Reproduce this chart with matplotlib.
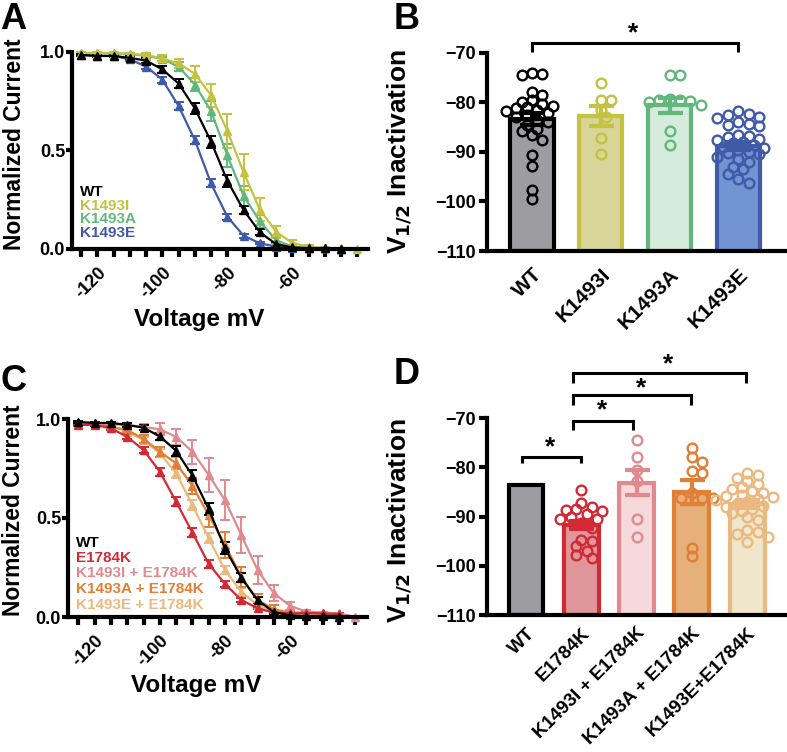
import numpy as np
import matplotlib
matplotlib.use('Agg')
import matplotlib.pyplot as plt

plt.rcParams['font.family'] = ['Liberation Sans', 'DejaVu Sans']
plt.rcParams['font.weight'] = 'bold'

# ---------------- data ----------------
volts = [-125, -120, -115, -110, -105, -100, -95, -90, -85, -80, -75, -70,
         -65, -60, -55, -50, -45, -40]
volt_ticks = [-125, -120, -115, -110, -105, -100, -95, -90, -85, -80, -75, -70,
              -65, -60, -55, -50, -45, -40]

# panel A / C steady-state inactivation curves (mean, SEM)
wt_i = [0.985, 0.98, 0.98, 0.97, 0.956, 0.912, 0.84, 0.714, 0.545, 0.347, 0.198, 0.085, 0.025, 0.008, 0.004, 0.003, 0.002]
wt_e = [0.005, 0.005, 0.005, 0.008, 0.012, 0.018, 0.025, 0.028, 0.03, 0.03, 0.022, 0.015, 0.008, 0.004, 0.002, 0.002, 0.002]
k1493i_i = [0.995, 0.995, 0.995, 0.99, 0.985, 0.968, 0.942, 0.89, 0.78, 0.60, 0.39, 0.20, 0.088, 0.03, 0.012, 0.005, 0.003, 0.0]
k1493i_e = [0.003, 0.003, 0.003, 0.005, 0.008, 0.015, 0.025, 0.04, 0.06, 0.085, 0.09, 0.06, 0.03, 0.015, 0.006, 0.003, 0.002, 0.0]
k1493a_i = [0.995, 0.995, 0.993, 0.99, 0.98, 0.965, 0.925, 0.835, 0.70, 0.475, 0.27, 0.14, 0.045, 0.012, 0.005, 0.003, 0.002]
k1493a_e = [0.003, 0.003, 0.004, 0.005, 0.008, 0.012, 0.022, 0.035, 0.05, 0.06, 0.05, 0.035, 0.015, 0.006, 0.003, 0.002, 0.002]
k1493e_i = [0.985, 0.98, 0.98, 0.963, 0.926, 0.86, 0.726, 0.553, 0.333, 0.164, 0.068, 0.029, 0.012, 0.006, 0.004, 0.003, 0.002]
k1493e_e = [0.004, 0.004, 0.005, 0.008, 0.01, 0.015, 0.02, 0.022, 0.02, 0.015, 0.01, 0.006, 0.004, 0.003, 0.002, 0.002, 0.002]

e1784k_i = [0.97, 0.97, 0.953, 0.91, 0.843, 0.734, 0.582, 0.426, 0.268, 0.167, 0.086, 0.044, 0.022, 0.018, 0.02, 0.018, 0.015]
e1784k_e = [0.005, 0.005, 0.008, 0.012, 0.015, 0.02, 0.022, 0.022, 0.02, 0.015, 0.01, 0.006, 0.004, 0.003, 0.003, 0.003, 0.003]
ki_ek_i = [0.978, 0.978, 0.975, 0.97, 0.96, 0.948, 0.91, 0.835, 0.717, 0.59, 0.414, 0.237, 0.12, 0.056, 0.027, 0.022, 0.018, 0.0]
ki_ek_e = [0.005, 0.005, 0.006, 0.008, 0.015, 0.03, 0.04, 0.06, 0.085, 0.1, 0.09, 0.07, 0.04, 0.02, 0.008, 0.005, 0.004, 0.0]
ka_ek_i = [0.975, 0.975, 0.96, 0.944, 0.90, 0.835, 0.776, 0.662, 0.515, 0.364, 0.204, 0.086, 0.039, 0.022, 0.022, 0.018, 0.015]
ka_ek_e = [0.005, 0.005, 0.008, 0.012, 0.02, 0.025, 0.03, 0.04, 0.06, 0.065, 0.05, 0.03, 0.02, 0.01, 0.005, 0.004, 0.004]
ke_ek_i = [0.978, 0.978, 0.965, 0.936, 0.894, 0.826, 0.726, 0.566, 0.397, 0.237, 0.128, 0.06, 0.027, 0.018, 0.015, 0.012, 0.01]
ke_ek_e = [0.004, 0.004, 0.006, 0.01, 0.015, 0.02, 0.022, 0.025, 0.025, 0.022, 0.018, 0.012, 0.008, 0.005, 0.004, 0.003, 0.003]

# panel B: V1/2 per cell
b_groups = ['WT', 'K1493I', 'K1493A', 'K1493E']
b_means = [-83.4, -82.7, -80.6, -88.8]
b_sems = [1.2, 2.0, 1.6, 0.8]
wt_pts = [-74.0, -74.2, -74.5, -77.8, -78.4, -79.5, -79.8, -80.3, -80.8, -81.0, -81.2, -81.5, -81.8, -82.2,
          -82.6, -83.0, -83.5, -84.0, -84.5, -85.3, -85.8, -86.6, -87.5, -90.6, -92.9, -97.7, -99.5]
k1493i_pts = [-76.0, -79.5, -79.5, -81.5, -83.0, -87.2, -90.5]
k1493a_pts = [-74.5, -74.5, -79.5, -79.5, -79.3, -80.0, -80.5, -79.6, -85.8, -88.5]
k1493e_pts = [-81.8, -82.3, -82.6, -83.0, -83.2, -84.0, -84.3, -84.6, -84.8, -86.5, -86.8, -87.0, -87.3, -87.6,
              -88.0, -88.2, -88.5, -89.0, -89.2, -89.5, -90.0, -90.2, -90.5, -91.0, -91.5, -92.0, -93.0, -93.5,
              -94.5, -95.5, -96.3]

# panel D
d_groups = ['WT', 'E1784K', 'K1493I + E1784K', 'K1493A + E1784K', 'K1493E+E1784K']
d_means = [-83.6, -91.8, -83.1, -85.0, -87.4]
d_sems = [None, 0.8, 2.6, 2.4, 0.8]
e1784k_pts = [-84.6, -87.3, -88.0, -88.5, -88.6, -88.9, -89.5, -90.0, -90.6, -90.6, -91.3, -92.3, -94.7,
              -95.0, -96.0, -97.0, -97.9, -98.4]
ki_ek_pts = [-74.5, -77.9, -80.5, -82.8, -90.5, -94.1]
ka_ek_pts = [-76.1, -77.9, -78.9, -80.8, -81.2, -85.2, -86.2, -86.2, -86.2, -96.4, -98.0]
ke_ek_pts = [-81.2, -81.5, -82.2, -82.8, -83.5, -84.0, -84.5, -84.9, -85.2, -85.6, -85.8, -86.0, -86.4, -86.6,
             -87.1, -87.4, -87.8, -88.0, -88.4, -88.8, -89.2, -90.0, -90.8, -92.8, -93.2, -93.5, -94.2, -95.2]

# colours
c_wt = 'black'
c_ki = '#c5c23f'
c_ka = '#62b87c'
c_ke = '#3f5aa8'
c_ek = '#d22a35'
c_kiek = '#e08a8f'
c_kaek = '#e07f35'
c_keek = '#ebb97f'

fill_b = ['#9c9ca1', '#d7d598', '#d5ebdc', '#7294d2']
edge_b = [c_wt, c_ki, c_ka, c_ke]
fill_d = ['#9c9ca1', '#e0979c', '#f6d9db', '#e6b07b', '#eee7cb']
edge_d = [c_wt, c_ek, c_kiek, c_kaek, c_keek]


def swarm_offsets(vals, px_y, px_x, diam):
    placed = []
    offs = [0.0] * len(vals)
    order = np.argsort(vals)[::-1]
    s = diam * 0.55
    for i in order:
        y = vals[i] * px_y
        k = 0
        while True:
            cand = ((k + 1) // 2) * s * (1 if k % 2 else -1)
            if all((cand - px) ** 2 + (y - py) ** 2 >= (0.8 * diam) ** 2 for px, py in placed):
                break
            k += 1
        placed.append((cand, y))
        offs[i] = cand / px_x
    return offs


def curve_axes(ax, series, xlim, legend_names, legend_cols, legend_y):
    for vals, errs, col in series:
        v = volts[:len(vals)]
        ax.errorbar(v, vals, yerr=errs, color=col, lw=1.6, marker='^', ms=5.5,
                    capsize=3.5, capthick=1.4, elinewidth=1.4, clip_on=False)
    ax.set_xlim(*xlim)
    ax.set_ylim(0, 1.0)
    ax.set_yticks([0.0, 0.5, 1.0])
    ax.set_yticklabels(['0.0', '0.5', '1.0'])
    ax.set_xticks(volt_ticks)
    ax.set_xticklabels(['' if t not in (-120, -100, -80, -60) else str(t) for t in volt_ticks],
                       rotation=45, ha='right', rotation_mode='anchor')
    for sp in ['top', 'right']:
        ax.spines[sp].set_visible(False)
    for sp in ['left', 'bottom']:
        ax.spines[sp].set_linewidth(3)
    ax.tick_params(axis='x', length=6, width=3, labelsize=13, pad=5)
    ax.tick_params(axis='y', length=4, width=3, labelsize=13, pad=1)
    for n, (name, col) in enumerate(zip(legend_names, legend_cols)):
        ax.text(0.028, legend_y[n], name, color=col, fontsize=11, fontweight='bold',
                transform=ax.transAxes, va='center', ha='left')


def bar_axes(ax, groups, means, sems, pts_list, fills, edges, xlim, px_x, px_y, xlab_size, xpad):
    xs = np.arange(len(groups))
    ax.bar(xs, [m + 110 for m in means], bottom=-110, width=0.63, color=fills,
           edgecolor=edges, linewidth=3, zorder=2)
    for i, pts in enumerate(pts_list):
        if pts is None:
            continue
        offs = swarm_offsets(pts, px_y, px_x, 9.5)
        ax.plot(xs[i] + np.array(offs), pts, 'o', mfc='none', mec=edges[i], ms=7, mew=1.7,
                zorder=3, clip_on=False)
    for i, s in enumerate(sems):
        if s is None:
            continue
        ax.errorbar(xs[i], means[i], yerr=s, color=edges[i], lw=3, capsize=9, capthick=3, zorder=4)
    ax.set_xlim(*xlim)
    ax.set_ylim(-110, -70)
    ax.set_yticks([-110, -100, -90, -80, -70])
    ax.set_xticks(xs)
    ax.set_xticklabels(groups, rotation=45, ha='right', rotation_mode='anchor')
    for sp in ['top', 'right']:
        ax.spines[sp].set_visible(False)
    for sp in ['left', 'bottom']:
        ax.spines[sp].set_linewidth(3)
    ax.tick_params(axis='x', length=0, labelsize=xlab_size, pad=xpad)
    ax.tick_params(axis='y', length=6, width=3, labelsize=13, pad=2)
    ax.set_ylabel('V$_{\\mathbf{1/2}}$ Inactivation', fontsize=19, fontweight='bold')


def bracket(ax, x0, x1, ytop, ybot, xs, ys):
    ax.plot([x0, x0, x1, x1], [ybot, ytop, ytop, ybot], color='black', lw=2.2, clip_on=False,
            solid_capstyle='butt', solid_joinstyle='miter')
    ax.text(xs, ys, '*', fontsize=19, fontweight='bold', ha='center', va='center', clip_on=False)


fig = plt.figure(figsize=(7.87, 7.52), dpi=100)

W, H = 787.0, 752.0
axA = fig.add_axes([72 / W, 1 - 249 / H, 296 / W, 197 / H])
axB = fig.add_axes([487 / W, 1 - 251 / H, 298 / W, 198 / H])
axC = fig.add_axes([68 / W, 1 - 617 / H, 299 / W, 198 / H])
axD = fig.add_axes([487 / W, 1 - 615 / H, 300 / W, 197 / H])

# panel A
curve_axes(axA, [(k1493e_i, k1493e_e, c_ke), (k1493a_i, k1493a_e, c_ka),
                 (k1493i_i, k1493i_e, c_ki), (wt_i, wt_e, c_wt)],
           (-127.8, -36.7), ['WT', 'K1493I', 'K1493A', 'K1493E'], [c_wt, c_ki, c_ka, c_ke],
           [0.29, 0.22, 0.152, 0.082])
axA.set_ylabel('Normalized Current', fontsize=16.5, fontweight='bold')
axA.yaxis.set_label_coords(-0.155, 0.53)
axA.set_xlabel('Voltage mV', fontsize=17.5, fontweight='bold')
axA.xaxis.set_label_coords(0.43, -0.30)

# panel C
curve_axes(axC, [(ke_ek_i, ke_ek_e, c_keek), (ka_ek_i, ka_ek_e, c_kaek),
                 (ki_ek_i, ki_ek_e, c_kiek), (e1784k_i, e1784k_e, c_ek), (wt_i, wt_e, c_wt)],
           (-128.2, -36.4), ['WT', 'E1784K', 'K1493I + E1784K', 'K1493A + E1784K', 'K1493E + E1784K'],
           [c_wt, c_ek, c_kiek, c_kaek, c_keek], [0.374, 0.298, 0.222, 0.141, 0.062])
axC.set_ylabel('Normalized Current', fontsize=16.5, fontweight='bold')
axC.yaxis.set_label_coords(-0.145, 0.54)
axC.set_xlabel('Voltage mV', fontsize=17.5, fontweight='bold')
axC.xaxis.set_label_coords(0.43, -0.29)

# panel B
bar_axes(axB, b_groups, b_means, b_sems, [wt_pts, k1493i_pts, k1493a_pts, k1493e_pts],
         fill_b, edge_b, (-0.655, 3.68), 68.7, 4.95, 15, 10)
axB.yaxis.set_label_coords(-0.24, 0.5)
bracket(axB, 0, 3, -68.0, -69.8, 1.47, -66.0)

# panel D
bar_axes(axD, d_groups, d_means, d_sems, [None, e1784k_pts, ki_ek_pts, ka_ek_pts, ke_ek_pts],
         fill_d, edge_d, (-0.705, 4.72), 55.3, 4.93, 13.5, 7)
axD.yaxis.set_label_coords(-0.24, 0.48)
bracket(axD, -0.07, 1.0, -77.9, -79.1, 0.43, -75.9)
bracket(axD, 0.85, 1.93, -70.6, -72.4, 1.375, -68.5)
bracket(axD, 0.85, 2.99, -65.3, -67.4, 2.08, -63.9)
bracket(axD, 0.85, 3.98, -60.9, -62.9, 2.57, -59.1)

# panel letters
for lab, x, y in [('A', 0, 2), ('B', 394, 2), ('C', 0, 364), ('D', 394, 357)]:
    fig.text(x / W, 1 - y / H, lab, fontsize=26, fontweight='bold', ha='left', va='top')

fig.savefig('out.png', dpi=100)
